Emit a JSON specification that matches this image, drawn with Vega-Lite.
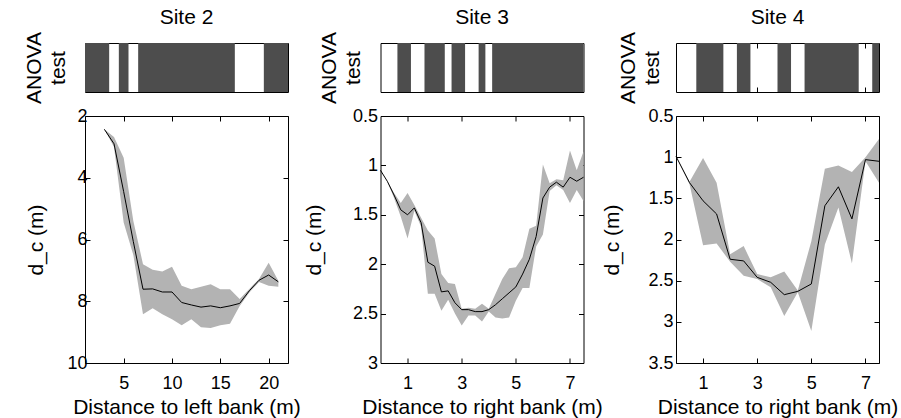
{
  "$schema": "https://vega.github.io/schema/vega-lite/v6.json",
  "background": "white",
  "padding": {"left": 22, "top": 6, "right": 2, "bottom": 2},
  "config": {
    "view": {"stroke": "black", "strokeWidth": 1},
    "font": "Liberation Sans",
    "axis": {
      "labelFont": "Liberation Sans", "titleFont": "Liberation Sans",
      "labelFontSize": 18, "titleFontSize": 21, "titleFontWeight": "normal",
      "labelColor": "black", "titleColor": "black", "tickColor": "black",
      "domain": false, "grid": false, "tickSize": -5, "tickWidth": 1
    },
    "title": {"font": "Liberation Sans", "fontSize": 21, "fontWeight": "normal", "color": "black", "offset": 4}
  },
  "datasets": {
    "p1": [
      {"x": 3, "mid": 2.43, "lo": 2.43, "hi": 2.43},
      {"x": 4, "mid": 2.9, "lo": 2.68, "hi": 3.0},
      {"x": 5, "mid": 4.45, "lo": 3.35, "hi": 5.45},
      {"x": 6, "mid": 6.07, "lo": 5.4, "hi": 6.5},
      {"x": 7, "mid": 7.61, "lo": 6.8, "hi": 8.42},
      {"x": 8, "mid": 7.6, "lo": 6.98, "hi": 8.23},
      {"x": 9, "mid": 7.7, "lo": 7.04, "hi": 8.42},
      {"x": 10, "mid": 7.7, "lo": 6.88, "hi": 8.58},
      {"x": 11, "mid": 8.04, "lo": 7.5, "hi": 8.78},
      {"x": 12, "mid": 8.12, "lo": 7.61, "hi": 8.58},
      {"x": 13, "mid": 8.19, "lo": 7.53, "hi": 8.84},
      {"x": 14, "mid": 8.15, "lo": 7.45, "hi": 8.87},
      {"x": 15, "mid": 8.21, "lo": 7.61, "hi": 8.78},
      {"x": 16, "mid": 8.15, "lo": 7.61, "hi": 8.73},
      {"x": 17, "mid": 8.07, "lo": 7.93, "hi": 8.15},
      {"x": 18, "mid": 7.66, "lo": 7.6, "hi": 7.72},
      {"x": 19, "mid": 7.32, "lo": 7.28, "hi": 7.38},
      {"x": 20, "mid": 7.15, "lo": 6.75, "hi": 7.5},
      {"x": 21, "mid": 7.37, "lo": 7.34, "hi": 7.53}
    ],
    "p2": [
      {"x": 0, "mid": 1.05, "lo": 1.05, "hi": 1.05},
      {"x": 0.25, "mid": 1.16, "lo": 1.16, "hi": 1.16},
      {"x": 0.5, "mid": 1.3, "lo": 1.28, "hi": 1.33},
      {"x": 0.75, "mid": 1.45, "lo": 1.38, "hi": 1.52},
      {"x": 1.0, "mid": 1.5, "lo": 1.28, "hi": 1.74},
      {"x": 1.25, "mid": 1.43, "lo": 1.4, "hi": 1.46},
      {"x": 1.5, "mid": 1.58, "lo": 1.53, "hi": 1.62},
      {"x": 1.75, "mid": 1.98, "lo": 1.66, "hi": 2.3},
      {"x": 2.0, "mid": 2.02, "lo": 1.74, "hi": 2.3},
      {"x": 2.25, "mid": 2.28, "lo": 2.1, "hi": 2.47},
      {"x": 2.5, "mid": 2.27, "lo": 2.19, "hi": 2.36},
      {"x": 2.75, "mid": 2.39, "lo": 2.2, "hi": 2.5},
      {"x": 3.0, "mid": 2.46, "lo": 2.45, "hi": 2.62},
      {"x": 3.25, "mid": 2.46, "lo": 2.44, "hi": 2.52},
      {"x": 3.5, "mid": 2.48, "lo": 2.45, "hi": 2.52},
      {"x": 3.75, "mid": 2.48, "lo": 2.4, "hi": 2.58},
      {"x": 4.0, "mid": 2.46, "lo": 2.45, "hi": 2.48},
      {"x": 4.25, "mid": 2.41, "lo": 2.3, "hi": 2.54},
      {"x": 4.5, "mid": 2.35, "lo": 2.15, "hi": 2.55},
      {"x": 4.75, "mid": 2.29, "lo": 2.04, "hi": 2.54},
      {"x": 5.0, "mid": 2.23, "lo": 2.03, "hi": 2.37},
      {"x": 5.25, "mid": 2.1, "lo": 1.93, "hi": 2.24},
      {"x": 5.5, "mid": 1.95, "lo": 1.64, "hi": 2.24},
      {"x": 5.75, "mid": 1.72, "lo": 1.61, "hi": 1.82},
      {"x": 6.0, "mid": 1.33, "lo": 0.99, "hi": 1.7},
      {"x": 6.25, "mid": 1.22, "lo": 1.18, "hi": 1.26},
      {"x": 6.5, "mid": 1.17, "lo": 1.14, "hi": 1.2},
      {"x": 6.75, "mid": 1.22, "lo": 1.15, "hi": 1.25},
      {"x": 7.0, "mid": 1.12, "lo": 0.85, "hi": 1.38},
      {"x": 7.25, "mid": 1.16, "lo": 1.05, "hi": 1.25},
      {"x": 7.5, "mid": 1.12, "lo": 0.86, "hi": 1.36}
    ],
    "p3": [
      {"x": 0, "mid": 0.99, "lo": 0.99, "hi": 0.99},
      {"x": 0.5, "mid": 1.31, "lo": 1.3, "hi": 1.33},
      {"x": 1.0, "mid": 1.53, "lo": 1.01, "hi": 2.07},
      {"x": 1.5, "mid": 1.69, "lo": 1.31, "hi": 2.05},
      {"x": 2.0, "mid": 2.24, "lo": 2.18, "hi": 2.27},
      {"x": 2.5, "mid": 2.26, "lo": 2.08, "hi": 2.44},
      {"x": 3.0, "mid": 2.46, "lo": 2.42, "hi": 2.48},
      {"x": 3.5, "mid": 2.52, "lo": 2.46, "hi": 2.58},
      {"x": 4.0, "mid": 2.67, "lo": 2.39, "hi": 2.93},
      {"x": 4.5, "mid": 2.63, "lo": 2.62, "hi": 2.64},
      {"x": 5.0, "mid": 2.54, "lo": 2.02, "hi": 3.11},
      {"x": 5.5, "mid": 1.59, "lo": 1.14, "hi": 2.06},
      {"x": 6.0, "mid": 1.36, "lo": 1.1, "hi": 1.61},
      {"x": 6.5, "mid": 1.75, "lo": 1.18, "hi": 2.29},
      {"x": 7.0, "mid": 1.03, "lo": 1.0, "hi": 1.05},
      {"x": 7.5, "mid": 1.05, "lo": 0.78, "hi": 1.31}
    ],
    "s1": [{"a": 1, "b": 3.5}, {"a": 4.5, "b": 5.5}, {"a": 6.5, "b": 16.5}, {"a": 19.5, "b": 22}],
    "s2": [{"a": 0.625, "b": 1.125}, {"a": 1.625, "b": 2.375}, {"a": 2.625, "b": 3.125}, {"a": 3.625, "b": 3.875}, {"a": 4.125, "b": 7.5}],
    "s3": [{"a": 0.75, "b": 1.75}, {"a": 2.25, "b": 2.75}, {"a": 3.75, "b": 4.25}, {"a": 4.75, "b": 6.75}, {"a": 7.25, "b": 7.5}]
  },
  "spacing": 2,
  "vconcat": [
    {
      "spacing": 92.5, "bounds": "flush",
      "hconcat": [
        {
          "width": 203, "height": 49, "title": "Site 2",
          "data": {"name": "s1"},
          "layer": [
            {"mark": {"type": "rect", "color": "#4d4d4d"},
             "encoding": {
               "x": {"field": "a", "type": "quantitative", "scale": {"domain": [1, 22], "nice": false, "zero": false}, "axis": {"orient": "bottom", "labels": false, "values": [5, 10, 15, 20], "title": null}},
               "x2": {"field": "b"},
               "y": {"datum": 0, "type": "quantitative", "scale": {"domain": [0, 1], "nice": false}, "axis": {"labels": false, "ticks": false, "title": ["ANOVA", "test"], "titlePadding": 17, "titleLineHeight": 24}},
               "y2": {"datum": 1}}},
            {"mark": {"type": "rect", "opacity": 0},
             "encoding": {
               "x": {"field": "a", "type": "quantitative", "scale": {"domain": [1, 22], "nice": false, "zero": false}, "axis": {"orient": "top", "labels": false, "values": [5, 10, 15, 20], "title": null}},
               "x2": {"field": "b"},
               "y": {"datum": 0, "type": "quantitative"}, "y2": {"datum": 1}}}
          ],
          "resolve": {"scale": {"x": "independent"}}
        },
        {
          "width": 203, "height": 49, "title": "Site 3",
          "data": {"name": "s2"},
          "layer": [
            {"mark": {"type": "rect", "color": "#4d4d4d"},
             "encoding": {
               "x": {"field": "a", "type": "quantitative", "scale": {"domain": [0, 7.5], "nice": false, "zero": false}, "axis": {"orient": "bottom", "labels": false, "values": [1, 3, 5, 7], "title": null}},
               "x2": {"field": "b"},
               "y": {"datum": 0, "type": "quantitative", "scale": {"domain": [0, 1], "nice": false}, "axis": {"labels": false, "ticks": false, "title": ["ANOVA", "test"], "titlePadding": 17, "titleLineHeight": 24}},
               "y2": {"datum": 1}}},
            {"mark": {"type": "rect", "opacity": 0},
             "encoding": {
               "x": {"field": "a", "type": "quantitative", "scale": {"domain": [0, 7.5], "nice": false, "zero": false}, "axis": {"orient": "top", "labels": false, "values": [1, 3, 5, 7], "title": null}},
               "x2": {"field": "b"},
               "y": {"datum": 0, "type": "quantitative"}, "y2": {"datum": 1}}}
          ],
          "resolve": {"scale": {"x": "independent"}}
        },
        {
          "width": 203, "height": 49, "title": "Site 4",
          "data": {"name": "s3"},
          "layer": [
            {"mark": {"type": "rect", "color": "#4d4d4d"},
             "encoding": {
               "x": {"field": "a", "type": "quantitative", "scale": {"domain": [0, 7.5], "nice": false, "zero": false}, "axis": {"orient": "bottom", "labels": false, "values": [1, 3, 5, 7], "title": null}},
               "x2": {"field": "b"},
               "y": {"datum": 0, "type": "quantitative", "scale": {"domain": [0, 1], "nice": false}, "axis": {"labels": false, "ticks": false, "title": ["ANOVA", "test"], "titlePadding": 14, "titleLineHeight": 24}},
               "y2": {"datum": 1}}},
            {"mark": {"type": "rect", "opacity": 0},
             "encoding": {
               "x": {"field": "a", "type": "quantitative", "scale": {"domain": [0, 7.5], "nice": false, "zero": false}, "axis": {"orient": "top", "labels": false, "values": [1, 3, 5, 7], "title": null}},
               "x2": {"field": "b"},
               "y": {"datum": 0, "type": "quantitative"}, "y2": {"datum": 1}}}
          ],
          "resolve": {"scale": {"x": "independent"}}
        }
      ]
    },
    {
      "spacing": 92.5, "bounds": "flush",
      "hconcat": [
        {
          "width": 203, "height": 247,
          "data": {"name": "p1"},
          "layer": [
            {"mark": {"type": "area", "color": "#b3b3b3", "opacity": 1},
             "encoding": {
               "x": {"field": "x", "type": "quantitative", "scale": {"domain": [1, 22], "nice": false, "zero": false}, "axis": {"orient": "bottom", "values": [5, 10, 15, 20], "title": "Distance to left bank (m)", "labelPadding": 16, "titlePadding": 4}},
               "y": {"field": "lo", "type": "quantitative", "scale": {"domain": [2, 10], "reverse": true, "nice": false, "zero": false}, "axis": {"orient": "left", "values": [2, 4, 6, 8, 10], "title": "d_c (m)", "labelPadding": 3, "titlePadding": 20}},
               "y2": {"field": "hi"}}},
            {"mark": {"type": "line", "color": "black", "strokeWidth": 1},
             "encoding": {
               "x": {"field": "x", "type": "quantitative", "scale": {"domain": [1, 22], "nice": false, "zero": false}, "axis": null},
               "y": {"field": "mid", "type": "quantitative", "scale": {"domain": [2, 10], "reverse": true, "nice": false, "zero": false}, "axis": null}}},
            {"mark": {"type": "line", "opacity": 0},
             "encoding": {
               "x": {"field": "x", "type": "quantitative", "scale": {"domain": [1, 22], "nice": false, "zero": false}, "axis": {"orient": "top", "labels": false, "values": [5, 10, 15, 20], "title": null}},
               "y": {"field": "mid", "type": "quantitative", "scale": {"domain": [2, 10], "reverse": true, "nice": false, "zero": false}, "axis": {"orient": "right", "labels": false, "values": [2, 4, 6, 8, 10], "title": null}}}}
          ],
          "resolve": {"scale": {"x": "independent", "y": "independent"}}
        },
        {
          "width": 203, "height": 247,
          "data": {"name": "p2"},
          "layer": [
            {"mark": {"type": "area", "color": "#b3b3b3", "opacity": 1},
             "encoding": {
               "x": {"field": "x", "type": "quantitative", "scale": {"domain": [0, 7.5], "nice": false, "zero": false}, "axis": {"orient": "bottom", "values": [1, 3, 5, 7], "title": "Distance to right bank (m)", "labelPadding": 16, "titlePadding": 4}},
               "y": {"field": "lo", "type": "quantitative", "scale": {"domain": [0.5, 3], "reverse": true, "nice": false, "zero": false}, "axis": {"orient": "left", "values": [0.5, 1, 1.5, 2, 2.5, 3], "labelExpr": "datum.value + ''", "title": "d_c (m)", "labelPadding": 8, "titlePadding": 28}},
               "y2": {"field": "hi"}}},
            {"mark": {"type": "line", "color": "black", "strokeWidth": 1},
             "encoding": {
               "x": {"field": "x", "type": "quantitative", "scale": {"domain": [0, 7.5], "nice": false, "zero": false}, "axis": null},
               "y": {"field": "mid", "type": "quantitative", "scale": {"domain": [0.5, 3], "reverse": true, "nice": false, "zero": false}, "axis": null}}},
            {"mark": {"type": "line", "opacity": 0},
             "encoding": {
               "x": {"field": "x", "type": "quantitative", "scale": {"domain": [0, 7.5], "nice": false, "zero": false}, "axis": {"orient": "top", "labels": false, "values": [1, 3, 5, 7], "title": null}},
               "y": {"field": "mid", "type": "quantitative", "scale": {"domain": [0.5, 3], "reverse": true, "nice": false, "zero": false}, "axis": {"orient": "right", "labels": false, "values": [0.5, 1, 1.5, 2, 2.5, 3], "title": null}}}}
          ],
          "resolve": {"scale": {"x": "independent", "y": "independent"}}
        },
        {
          "width": 203, "height": 247,
          "data": {"name": "p3"},
          "layer": [
            {"mark": {"type": "area", "color": "#b3b3b3", "opacity": 1},
             "encoding": {
               "x": {"field": "x", "type": "quantitative", "scale": {"domain": [0, 7.5], "nice": false, "zero": false}, "axis": {"orient": "bottom", "values": [1, 3, 5, 7], "title": "Distance to right bank (m)", "labelPadding": 16, "titlePadding": 4}},
               "y": {"field": "lo", "type": "quantitative", "scale": {"domain": [0.5, 3.5], "reverse": true, "nice": false, "zero": false}, "axis": {"orient": "left", "values": [0.5, 1, 1.5, 2, 2.5, 3, 3.5], "labelExpr": "datum.value + ''", "title": "d_c (m)", "labelPadding": 8, "titlePadding": 25}},
               "y2": {"field": "hi"}}},
            {"mark": {"type": "line", "color": "black", "strokeWidth": 1},
             "encoding": {
               "x": {"field": "x", "type": "quantitative", "scale": {"domain": [0, 7.5], "nice": false, "zero": false}, "axis": null},
               "y": {"field": "mid", "type": "quantitative", "scale": {"domain": [0.5, 3.5], "reverse": true, "nice": false, "zero": false}, "axis": null}}},
            {"mark": {"type": "line", "opacity": 0},
             "encoding": {
               "x": {"field": "x", "type": "quantitative", "scale": {"domain": [0, 7.5], "nice": false, "zero": false}, "axis": {"orient": "top", "labels": false, "values": [1, 3, 5, 7], "title": null}},
               "y": {"field": "mid", "type": "quantitative", "scale": {"domain": [0.5, 3.5], "reverse": true, "nice": false, "zero": false}, "axis": {"orient": "right", "labels": false, "values": [0.5, 1, 1.5, 2, 2.5, 3, 3.5], "title": null}}}}
          ],
          "resolve": {"scale": {"x": "independent", "y": "independent"}}
        }
      ]
    }
  ]
}
